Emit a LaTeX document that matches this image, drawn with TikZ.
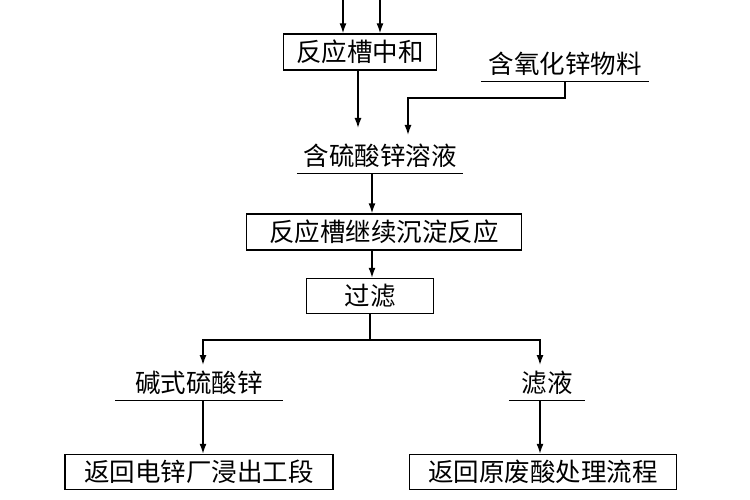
\documentclass[tikz,border=0pt]{standalone}
\usepackage{fontspec}
\setmainfont{Noto Sans CJK SC}
\usetikzlibrary{arrows.meta}
\begin{document}
\begin{tikzpicture}[x=1pt, y=-1pt, font=\fontsize{25.5}{28}\selectfont,
    line width=1.4pt,
    stepbox/.style={draw, minimum height=36pt, inner sep=0pt, anchor=center},
    material/.style={minimum height=34pt, inner sep=0pt, anchor=center},
    flow/.style={-{Latex[length=10pt, width=7pt]}}]
        \useasboundingbox (0,0) rectangle (750,500);

        \node[stepbox, minimum width=153pt] (neutral) at (360,52) {反应槽中和};
        \node[material, minimum width=167pt] (zno) at (565,64) {含氧化锌物料};
        \node[material, minimum width=165pt] (znso4) at (380,156) {含硫酸锌溶液};
        \node[stepbox, minimum width=275pt] (react) at (384,232) {反应槽继续沉淀反应};
        \node[stepbox, minimum width=127pt, minimum height=35pt] (filter) at (370,296) {过滤};
        \node[material, minimum width=166pt] (basic) at (199,383) {碱式硫酸锌};
        \node[material, minimum width=75pt] (filtrate) at (547,383) {滤液};
        \node[stepbox, minimum width=268pt, minimum height=35pt] (leach) at (199,472) {返回电锌厂浸出工段};
        \node[stepbox, minimum width=267pt, minimum height=35pt] (acid) at (543,472) {返回原废酸处理流程};

        % underlines of the material texts
        \draw (zno.south west) -- (zno.south east);
        \draw (znso4.south west) -- (znso4.south east);
        \draw (basic.south west) -- (basic.south east);
        \draw (filtrate.south west) -- (filtrate.south east);

        \coordinate (in1) at (343,0);
        \coordinate (in2) at (380,0);
        \draw[flow] (in1) -- (in1 |- neutral.north);
        \draw[flow] (in2) -- (in2 |- neutral.north);

        \draw[flow] (358,0 |- neutral.south) -- (358,128);
        \draw[flow] (zno.south) -- (565,98) -- (408,98) -- (408,135);
        \draw[flow] (372,0 |- znso4.south) -- (372,0 |- react.north);
        \draw[flow] (372,0 |- react.south) -- (372,0 |- filter.north);

        \coordinate (split) at (370,340);
        \draw (filter.south) -- (split);
        \draw[flow] (split) -- (203,340) -- (203,365);
        \draw[flow] (split) -- (540,340) -- (540,365);
        \draw[flow] (203,0 |- basic.south) -- (203,0 |- leach.north);
        \draw[flow] (540,0 |- filtrate.south) -- (540,0 |- acid.north);
    \end{tikzpicture}
\end{document}
